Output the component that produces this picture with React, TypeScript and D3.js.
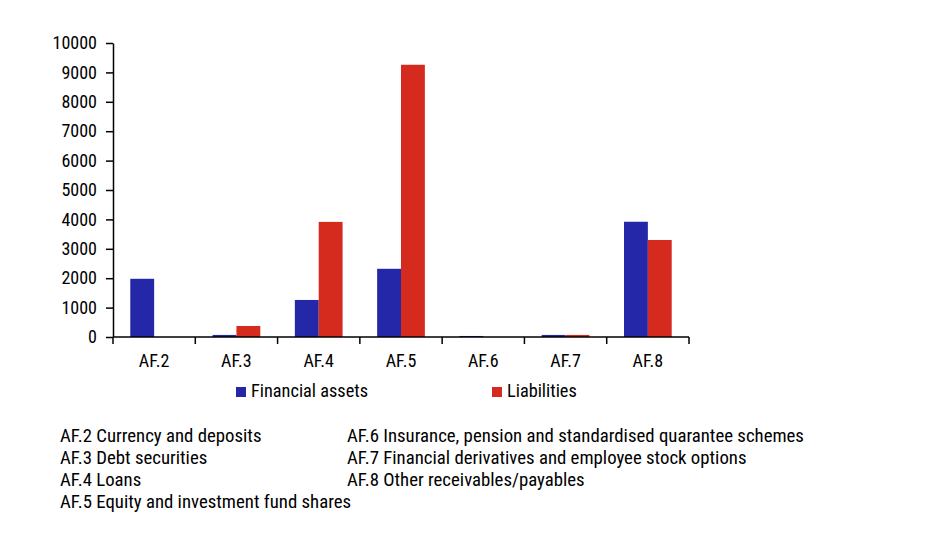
import React, { useEffect, useRef } from 'react';
import * as d3 from 'd3';

const categories = ['AF.2', 'AF.3', 'AF.4', 'AF.5', 'AF.6', 'AF.7', 'AF.8'];
const financialAssets = [1980, 70, 1260, 2320, 35, 70, 3920];
const liabilities = [0, 375, 3915, 9260, 0, 70, 3300];
const seriesNames = ['Financial assets', 'Liabilities'];
const seriesColors = ['#2327a8', '#d52b1e'];
const yTicks = [0, 1000, 2000, 3000, 4000, 5000, 6000, 7000, 8000, 9000, 10000];
const notesLeft = [
  'AF.2 Currency and deposits',
  'AF.3 Debt securities',
  'AF.4 Loans',
  'AF.5 Equity and investment fund shares'
];
const notesRight = [
  'AF.6 Insurance, pension and standardised quarantee schemes',
  'AF.7 Financial derivatives and employee stock options',
  'AF.8 Other receivables/payables'
];

const FONT = "'Roboto Condensed', 'Liberation Sans Narrow', 'DejaVu Sans Condensed', sans-serif";

const App: React.FC = () => {
  const svgRef = useRef<SVGSVGElement>(null);

  useEffect(() => {
    if (!svgRef.current) return;
    const root = d3.select(svgRef.current);
    root.selectAll('*').remove();

    const margin = { top: 43, left: 113 };
    const innerWidth = 576;
    const innerHeight = 294;

    const svg = root.append('g')
      .attr('transform', `translate(${margin.left},${margin.top})`)
      .style('font-family', FONT);

    const x = d3.scaleBand<string>()
      .domain(categories)
      .range([0, innerWidth])
      .paddingInner(0)
      .paddingOuter(0);

    const inner = d3.scaleBand<number>()
      .domain([0, 1])
      .range([x.bandwidth() * 0.21, x.bandwidth() * 0.79]);

    const y = d3.scaleLinear()
      .domain([0, 10000])
      .range([innerHeight, 0]);

    // Bars
    const series = [financialAssets, liabilities];
    series.forEach((vals, si) => {
      svg.append('g')
        .selectAll('rect')
        .data(vals)
        .join('rect')
        .attr('x', (_, i) => (x(categories[i]) ?? 0) + (inner(si) ?? 0))
        .attr('width', inner.bandwidth())
        .attr('y', d => y(d))
        .attr('height', d => innerHeight - y(d))
        .attr('fill', seriesColors[si]);
    });

    // Y axis
    const yAxis = svg.append('g')
      .call(d3.axisLeft(y).tickValues(yTicks).tickFormat(d3.format('d')).tickSize(7).tickSizeOuter(0).tickPadding(9));
    yAxis.select('.domain').attr('stroke', '#000').attr('stroke-width', 1.5);
    yAxis.selectAll('.tick line').attr('stroke-width', 1.5);
    yAxis.selectAll('text').style('font-size', '18px').style('font-family', FONT).attr('fill', '#000');

    // X axis: ticks at category boundaries
    const xAxisG = svg.append('g').attr('transform', `translate(0,${innerHeight})`);
    xAxisG.append('line')
      .attr('x1', 0).attr('x2', innerWidth)
      .attr('stroke', '#000').attr('stroke-width', 1.5);
    const boundaries = categories.map(c => x(c) ?? 0).concat([innerWidth]);
    xAxisG.selectAll('line.tick')
      .data(boundaries)
      .join('line')
      .attr('class', 'tick')
      .attr('x1', d => d).attr('x2', d => d)
      .attr('y1', 0).attr('y2', 7)
      .attr('stroke', '#000').attr('stroke-width', 1.5);
    xAxisG.selectAll('text')
      .data(categories)
      .join('text')
      .attr('x', d => (x(d) ?? 0) + x.bandwidth() / 2)
      .attr('y', 30)
      .attr('text-anchor', 'middle')
      .style('font-size', '18px')
      .attr('fill', '#000')
      .text(d => d);

    // Legend
    const legendX = [236 - margin.left, 492 - margin.left];
    const legend = svg.append('g').attr('transform', `translate(0,${387 - margin.top})`);
    seriesNames.forEach((name, i) => {
      legend.append('rect')
        .attr('x', legendX[i]).attr('y', 0)
        .attr('width', 10).attr('height', 10)
        .attr('fill', seriesColors[i]);
      legend.append('text')
        .attr('x', legendX[i] + 15).attr('y', 10)
        .style('font-size', '18.3px')
        .attr('fill', '#000')
        .text(name);
    });

    // Notes
    const notes = root.append('g').style('font-family', FONT).style('font-size', '18.8px');
    notes.selectAll('text.l')
      .data(notesLeft)
      .join('text')
      .attr('class', 'l')
      .attr('x', 60)
      .attr('y', (_, i) => 442 + i * 22)
      .attr('fill', '#000')
      .text(d => d);
    notes.selectAll('text.r')
      .data(notesRight)
      .join('text')
      .attr('class', 'r')
      .attr('x', 347)
      .attr('y', (_, i) => 442 + i * 22)
      .attr('fill', '#000')
      .text(d => d);
  }, []);

  return (
    <svg
      ref={svgRef}
      width={948}
      height={533}
      style={{ position: 'absolute', left: 0, top: 0, background: '#fff' }}
    />
  );
};

export default App;
